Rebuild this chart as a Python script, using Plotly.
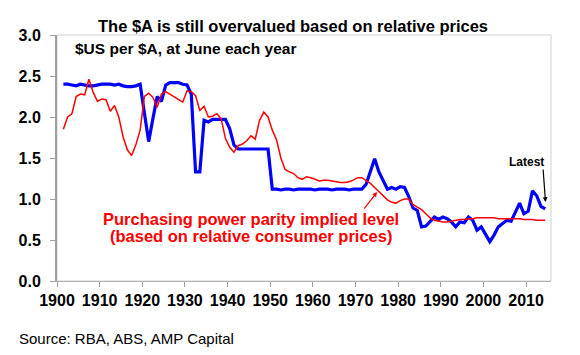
import plotly.graph_objects as go

years = list(range(1901, 2015))

aud_usd = [
    2.40, 2.40, 2.39, 2.38, 2.40, 2.39, 2.38, 2.38, 2.39, 2.40,  # 1901-1910
    2.40, 2.40, 2.39, 2.40, 2.38, 2.37, 2.37, 2.38, 2.40, 2.05,  # 1911-1920
    1.70, 1.98, 2.25, 2.19, 2.39, 2.42, 2.42, 2.42, 2.40, 2.39,  # 1921-1930
    2.28, 1.33, 1.33, 1.96, 1.94, 1.97, 1.97, 1.97, 1.97, 1.86,  # 1931-1940
    1.66, 1.61, 1.61, 1.61, 1.61, 1.61, 1.61, 1.61, 1.61, 1.12,  # 1941-1950
    1.12, 1.11, 1.12, 1.12, 1.11, 1.12, 1.12, 1.12, 1.12, 1.11,  # 1951-1960
    1.12, 1.12, 1.12, 1.11, 1.12, 1.12, 1.12, 1.11, 1.12, 1.12,  # 1961-1970
    1.12, 1.18, 1.33, 1.49, 1.33, 1.22, 1.12, 1.14, 1.12, 1.15,  # 1971-1980
    1.14, 1.03, 0.89, 0.86, 0.66, 0.67, 0.72, 0.78, 0.75, 0.78,  # 1981-1990
    0.76, 0.72, 0.66, 0.72, 0.71, 0.78, 0.74, 0.62, 0.66, 0.57,  # 1991-2000
    0.48, 0.56, 0.66, 0.70, 0.74, 0.73, 0.84, 0.95, 0.82, 0.85,  # 2001-2010
    1.10, 1.04, 0.91, 0.88,                                      # 2011-2014
]

ppp_level = [
    1.85, 2.00, 2.04, 2.25, 2.28, 2.27, 2.46, 2.30, 2.19, 2.22,  # 1901-1910
    2.21, 2.07, 2.14, 2.00, 1.76, 1.60, 1.53, 1.66, 1.84, 2.25,  # 1911-1920
    2.29, 2.24, 2.12, 2.28, 2.31, 2.28, 2.25, 2.22, 2.18, 2.32,  # 1921-1930
    2.31, 2.26, 2.08, 2.13, 2.00, 2.01, 2.04, 1.98, 1.74, 1.63,  # 1931-1940
    1.57, 1.65, 1.67, 1.71, 1.77, 1.73, 1.96, 2.06, 2.00, 1.84,  # 1941-1950
    1.72, 1.50, 1.36, 1.33, 1.31, 1.26, 1.24, 1.27, 1.26, 1.24,  # 1951-1960
    1.22, 1.23, 1.23, 1.22, 1.21, 1.20, 1.20, 1.21, 1.23, 1.26,  # 1961-1970
    1.26, 1.23, 1.19, 1.14, 1.09, 1.04, 0.99, 0.96, 0.95, 0.98,  # 1971-1980
    1.00, 1.00, 0.93, 0.90, 0.87, 0.82, 0.77, 0.74, 0.73, 0.72,  # 1981-1990
    0.72, 0.73, 0.74, 0.75, 0.75, 0.76, 0.76, 0.77, 0.77, 0.77,  # 1991-2000
    0.77, 0.77, 0.76, 0.76, 0.76, 0.76, 0.76, 0.76, 0.75, 0.75,  # 2001-2010
    0.75, 0.74, 0.74, 0.74,                                      # 2011-2014
]

y_ticks = [0.0, 0.5, 1.0, 1.5, 2.0, 2.5, 3.0]

dates = [f"{y}-06-30" for y in years]

FONT = "Liberation Sans, Arial, Helvetica, sans-serif"

fig = go.Figure()
fig.add_trace(go.Scatter(x=dates, y=aud_usd, mode="lines",
                         line=dict(color="#0000FF", width=3.2), name="$A"))
fig.add_trace(go.Scatter(x=dates, y=ppp_level, mode="lines",
                         line=dict(color="#FF0000", width=1.5), name="PPP"))

fig.update_layout(
    width=580, height=355,
    margin=dict(l=57, r=29, t=35, b=74),
    paper_bgcolor="white", plot_bgcolor="white",
    showlegend=False,
    font=dict(family=FONT, color="black"),
    xaxis=dict(
        type="date",
        range=["1900-01-01", "2015-11-06"],
        tick0="1900-01-01", dtick="M120", tickformat="%Y",
        ticks="outside", ticklen=5, tickcolor="#a0a0a0", tickwidth=1,
        showline=True, linecolor="#b0b0b0", linewidth=1,
        showgrid=False, zeroline=False,
        tickfont=dict(family=FONT, size=16, color="black", weight="bold"),
    ),
    yaxis=dict(
        range=[0, 3.0],
        tickvals=y_ticks, ticktext=[f"{v:.1f}" for v in y_ticks],
        ticks="outside", ticklen=5, tickcolor="#a0a0a0", tickwidth=1,
        showline=True, linecolor="#a0a0a0", linewidth=2,
        showgrid=False, zeroline=False,
        ticklabelstandoff=6,
        tickfont=dict(family=FONT, size=16, color="black", weight="bold"),
    ),
    shapes=[dict(type="rect", xref="paper", yref="paper", x0=0, x1=1, y0=0, y1=1,
                 line=dict(color="#d0d0d0", width=1), layer="below")],
)

# Title
fig.add_annotation(text="<b>The $A is still overvalued based on relative prices</b>",
                   xref="paper", yref="paper", x=(293 - 57) / 494, y=(281 - 26) / 246,
                   showarrow=False, xanchor="center", yanchor="middle",
                   font=dict(family=FONT, size=16.5, color="black"))
# Subtitle inside plot
fig.add_annotation(text="<b>$US per $A, at June each year</b>",
                   xref="paper", yref="paper", x=(73 - 57) / 494, y=(281 - 48) / 246,
                   showarrow=False, xanchor="left", yanchor="middle",
                   font=dict(family=FONT, size=15.5, color="black"))
# Red PPP label
fig.add_annotation(text="<b>Purchasing power parity implied level</b>",
                   xref="paper", yref="paper", x=(251 - 57) / 494, y=(281 - 219) / 246,
                   showarrow=False, xanchor="center", yanchor="middle",
                   font=dict(family=FONT, size=16.5, color="#FF0000"))
fig.add_annotation(text="<b>(based on relative consumer prices)</b>",
                   xref="paper", yref="paper", x=(251 - 57) / 494, y=(281 - 236) / 246,
                   showarrow=False, xanchor="center", yanchor="middle",
                   font=dict(family=FONT, size=16.5, color="#FF0000"))
# Red arrow
fig.add_annotation(x="1975-01-20", y=1.085, xref="x", yref="y", text="",
                   showarrow=True, arrowhead=2, arrowsize=0.8, arrowwidth=1.2,
                   arrowcolor="#FF0000", ax=-14, ay=18)
# Latest label and arrow
fig.add_annotation(text="<b>Latest</b>", xref="paper", yref="paper",
                   x=(526 - 57) / 494, y=(281 - 162) / 246,
                   showarrow=False, xanchor="center", yanchor="middle",
                   font=dict(family=FONT, size=12, color="black"))
fig.add_annotation(x="2014-07-24", y=0.963, xref="x", yref="y", text="",
                   showarrow=True, arrowhead=2, arrowsize=0.8, arrowwidth=1.2,
                   arrowcolor="black", ax=-2.5, ay=-34)
# Source
fig.add_annotation(text="Source: RBA, ABS, AMP Capital", xref="paper", yref="paper",
                   x=(17 - 57) / 494, y=(281 - 338) / 246,
                   showarrow=False, xanchor="left", yanchor="middle",
                   font=dict(family=FONT, size=15, color="black"))

fig.write_html("out.html")
